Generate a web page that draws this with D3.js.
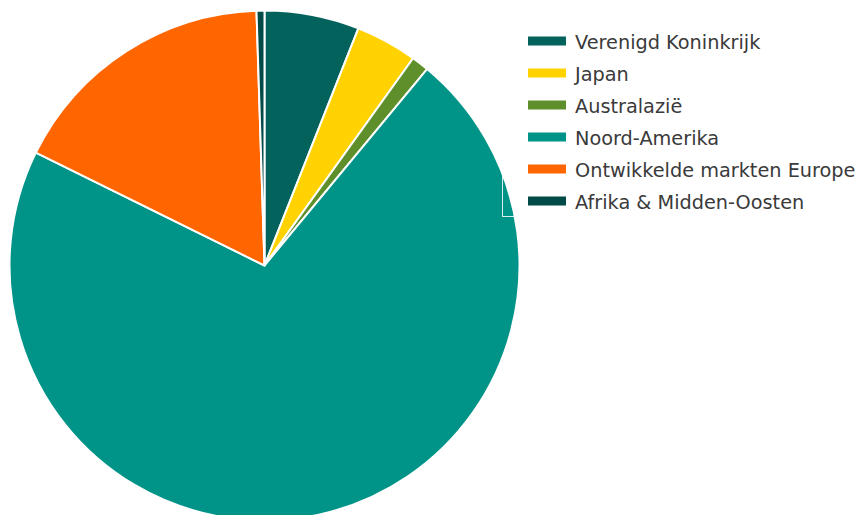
<!DOCTYPE html>
<html>
<head>
<meta charset="utf-8">
<script src="https://cdn.jsdelivr.net/npm/d3@7"></script>
<style>
  html, body { margin: 0; padding: 0; background: #fff; }
  svg { display: block; font-family: "DejaVu Sans", sans-serif; }
</style>
</head>
<body>
<svg id="chart" width="858" height="515"></svg>
<script>
// data (percentages)
const regions = [
  'Verenigd Koninkrijk',
  'Japan',
  'Australazië',
  'Noord-Amerika',
  'Ontwikkelde markten Europe',
  'Afrika & Midden-Oosten',
]
const shares = [6.0, 3.9, 1.1, 71.3, 17.2, 0.5]
const colors = ['#03625c', '#ffd200', '#5e8f2a', '#009387', '#ff6600', '#004b48']

const width = 858
const height = 515
const cx = 264.5
const cy = 265.5
const radius = 255

const data = regions.map((name, i) => ({ name, value: shares[i], color: colors[i] }))

const svg = d3.select('#chart')

svg
  .append('rect')
  .attr('width', width)
  .attr('height', height)
  .attr('fill', '#fff')

const pie = d3.pie().sort(null).value((d) => d.value)
const arc = d3.arc().innerRadius(0).outerRadius(radius)

// pie slices
svg
  .append('g')
  .attr('id', 'pie')
  .attr('transform', `translate(${cx},${cy})`)
  .selectAll('path')
  .data(pie(data))
  .join('path')
  .attr('d', arc)
  .attr('fill', (d) => d.data.color)
  .attr('stroke', '#fff')
  .attr('stroke-width', 2)
  .attr('stroke-linejoin', 'round')

// legend
const legend = svg.append('g').attr('id', 'legend')

legend
  .append('rect')
  .attr('x', 502.5)
  .attr('y', 22.5)
  .attr('width', 400)
  .attr('height', 194)
  .attr('fill', 'none')
  .attr('stroke', '#fff')
  .attr('stroke-opacity', 0.85)

const rows = legend
  .selectAll('g')
  .data(data)
  .join('g')
  .attr('transform', (d, i) => `translate(528,${41 + i * 32})`)

rows
  .append('rect')
  .attr('x', 0)
  .attr('y', -4.5)
  .attr('width', 38)
  .attr('height', 9)
  .attr('fill', (d) => d.color)

rows
  .append('text')
  .attr('x', 47)
  .attr('y', 8)
  .attr('font-size', 19.3)
  .attr('fill', '#3a3a3a')
  .text((d) => d.name)
</script>
</body>
</html>
